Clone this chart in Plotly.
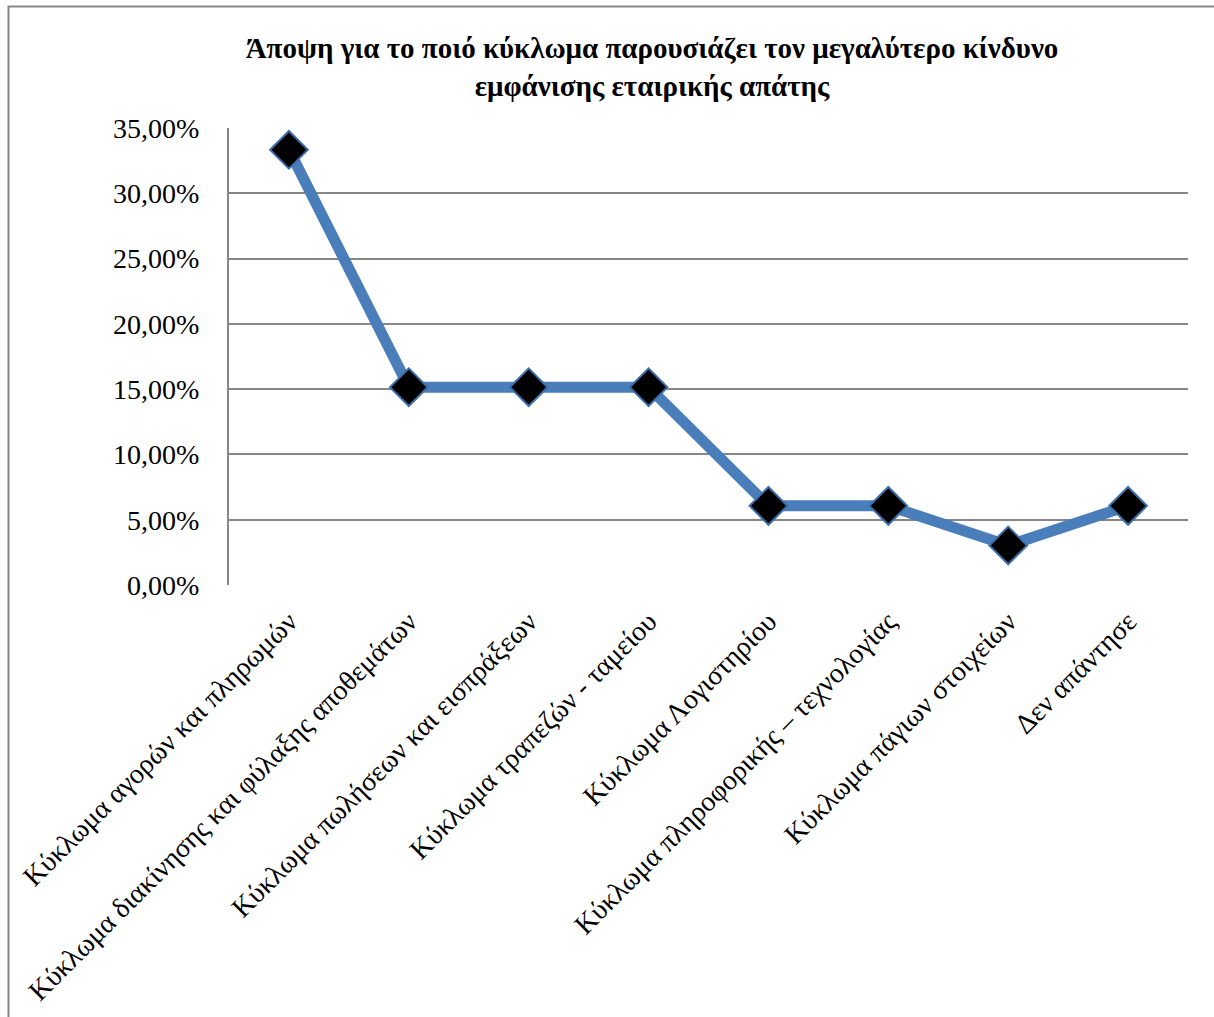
import plotly.graph_objects as go

# Survey answers: which business cycle carries the highest risk of corporate fraud
categories = [
    "Κύκλωμα αγορών και πληρωμών",
    "Κύκλωμα διακίνησης και φύλαξης αποθεμάτων",
    "Κύκλωμα πωλήσεων και εισπράξεων",
    "Κύκλωμα τραπεζών - ταμείου",
    "Κύκλωμα Λογιστηρίου",
    "Κύκλωμα πληροφορικής – τεχνολογίας",
    "Κύκλωμα πάγιων στοιχείων",
    "Δεν απάντησε",
]
shares = [0.3333, 0.1515, 0.1515, 0.1515, 0.0606, 0.0606, 0.0303, 0.0606]
y_ticks = [0.0, 0.05, 0.10, 0.15, 0.20, 0.25, 0.30, 0.35]

W, H = 1214, 1017
ML, MR, MT, MB = 229, 26, 128, 432
PW, PH = W - ML - MR, H - MT - MB

FONT = "Liberation Serif, Times New Roman, serif"
GRID = "#878787"


def px_to_paper_x(px):
    return (px - ML) / PW


def px_to_paper_y(py):
    return (H - MB - py) / PH


fig = go.Figure()
fig.add_trace(go.Scatter(
    x=list(range(len(categories))),
    y=shares,
    mode="lines+markers",
    line=dict(color="#4A7EBB", width=11),
    marker=dict(symbol="diamond", size=29, color="#000000",
                line=dict(color="#3C6EA8", width=2)),
    showlegend=False,
))

fig.update_layout(
    width=W, height=H,
    margin=dict(l=ML, r=MR, t=MT, b=MB),
    paper_bgcolor="white", plot_bgcolor="white",
    separators=", ",
    font=dict(family=FONT, color="#000000"),
    title=dict(
        text="<b>Άποψη για το ποιό κύκλωμα παρουσιάζει τον μεγαλύτερο κίνδυνο<br>εμφάνισης εταιρικής απάτης</b>",
        x=652 / W, xanchor="center", xref="container",
        y=1 - 58 / H, yanchor="top",
        font=dict(family=FONT, size=29, color="#000000"),
    ),
    xaxis=dict(
        range=[-0.5, len(categories) - 0.5],
        tickmode="array",
        tickvals=list(range(len(categories))),
        ticktext=categories,
        tickangle=-45,
        tickfont=dict(family=FONT, size=28, color="#000000"),
        showgrid=False, zeroline=False, showline=False,
        ticks="outside", ticklen=8, tickcolor="rgba(0,0,0,0)",
    ),
    yaxis=dict(
        range=[0, 0.35],
        tickmode="array",
        tickvals=y_ticks,
        tickformat=".2%",
        tickfont=dict(family=FONT, size=28, color="#000000"),
        showgrid=True, gridcolor=GRID, gridwidth=2,
        zeroline=False,
        showline=True, linecolor=GRID, linewidth=2,
        ticks="outside", ticklen=22, tickcolor="rgba(0,0,0,0)",
    ),
    shapes=[dict(
        type="rect", xref="paper", yref="paper",
        x0=px_to_paper_x(8.5), x1=px_to_paper_x(W + 10),
        y0=px_to_paper_y(H + 10), y1=px_to_paper_y(6.5),
        line=dict(color=GRID, width=2), fillcolor="rgba(0,0,0,0)",
        layer="below",
    )],
)

fig.write_html("out.html")
